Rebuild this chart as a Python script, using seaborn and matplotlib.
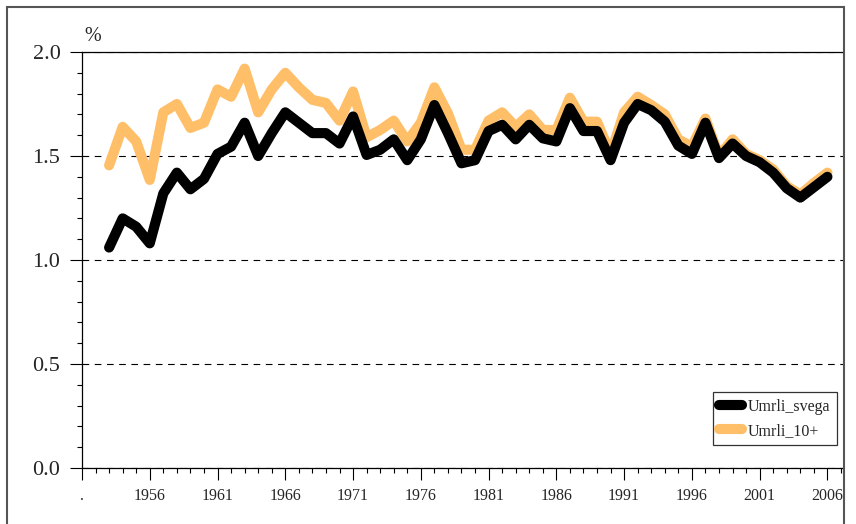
import pandas as pd
import matplotlib.pyplot as plt
import seaborn as sns
from matplotlib.ticker import MultipleLocator
from matplotlib.patches import Rectangle

# 数据：年份与两条序列（%）
years = list(range(1953, 2007))
umrli_svega = [1.06, 1.20, 1.16, 1.08, 1.32, 1.42, 1.34, 1.39, 1.51, 1.545,
               1.66, 1.50, 1.61, 1.71, 1.66, 1.61, 1.61, 1.56, 1.69, 1.505,
               1.53, 1.58, 1.48, 1.58, 1.745, 1.61, 1.465, 1.48, 1.62, 1.65,
               1.58, 1.65, 1.585, 1.57, 1.73, 1.62, 1.62, 1.48, 1.66, 1.75,
               1.72, 1.665, 1.55, 1.51, 1.66, 1.49, 1.56, 1.50, 1.47, 1.42,
               1.345, 1.30, 1.35, 1.40]
umrli_10 = [1.455, 1.64, 1.57, 1.385, 1.71, 1.75, 1.635, 1.66, 1.82, 1.785,
            1.92, 1.71, 1.82, 1.90, 1.83, 1.77, 1.755, 1.67, 1.81, 1.59,
            1.625, 1.67, 1.57, 1.66, 1.83, 1.705, 1.53, 1.53, 1.67, 1.71,
            1.64, 1.70, 1.625, 1.625, 1.78, 1.665, 1.665, 1.51, 1.71, 1.785,
            1.745, 1.70, 1.58, 1.545, 1.68, 1.50, 1.58, 1.51, 1.48, 1.435,
            1.355, 1.315, 1.37, 1.42]
major_years = list(range(1951, 2007, 5))
x_labels = ['.'] + [str(y) for y in major_years[1:]]
y_ticks = [0.0, 0.5, 1.0, 1.5, 2.0]

sns.set_theme(style="white")
plt.rcParams['font.family'] = ['Liberation Serif', 'DejaVu Serif']

df = pd.DataFrame({'year': years, 'Umrli_svega': umrli_svega, 'Umrli_10+': umrli_10})

fig = plt.figure(figsize=(8.56, 5.24), dpi=100)
ax = fig.add_axes([82 / 856, 1 - 468 / 524, (843 - 82) / 856, (468 - 52) / 524])

line_kw = dict(linewidth=7.3, solid_capstyle='round', solid_joinstyle='round')
sns.lineplot(data=df, x='year', y='Umrli_10+', color='#FFBF69', ax=ax, label='Umrli_10+', **line_kw)
sns.lineplot(data=df, x='year', y='Umrli_svega', color='black', ax=ax, label='Umrli_svega', **line_kw)

# 坐标轴
ax.set_xlim(1951, 2007.15)
ax.set_ylim(0, 2.0)
ax.set_xticks(major_years)
ax.set_xticklabels(x_labels, fontsize=11.5)
ax.xaxis.set_minor_locator(MultipleLocator(1))
ax.set_yticks(y_ticks)
ax.set_yticklabels([f'{v:.1f}' for v in y_ticks], fontsize=16)
ax.yaxis.set_minor_locator(MultipleLocator(0.1))
ax.tick_params(axis='both', which='major', direction='out', length=8.5, width=0.8, color='black')
ax.tick_params(axis='both', which='minor', direction='out', length=3.8, width=0.8, color='black')
ax.tick_params(axis='x', which='both', bottom=True, pad=6)
ax.tick_params(axis='y', which='both', left=True, pad=7)
ax.set_xlabel('')
ax.set_ylabel('')

for side in ['left', 'top', 'bottom']:
    ax.spines[side].set_color('black')
    ax.spines[side].set_linewidth(0.9)
ax.spines['right'].set_visible(False)

ax.yaxis.grid(True, which='major', color='black', linestyle=(0, (6, 5)), linewidth=0.8)
ax.xaxis.grid(False)

# 图例（黑线在前）
handles, labels = ax.get_legend_handles_labels()
leg = ax.legend(handles[::-1], labels[::-1], loc='lower right', bbox_to_anchor=(0.992, 0.055),
                borderaxespad=0, fontsize=11.5, frameon=True, fancybox=False, edgecolor='black',
                handlelength=1.4, handletextpad=0.4, labelspacing=0.5, borderpad=0.4)
leg.get_frame().set_linewidth(0.9)
leg.get_frame().set_boxstyle('square', pad=0)

fig.text(84 / 856, 1 - 41 / 524, '%', fontsize=14.5, ha='left', va='baseline')

# 外框
fig.patches.append(Rectangle((7 / 856, -0.05), (844 - 7) / 856, 1.05 - 7 / 524,
                             transform=fig.transFigure, fill=False, edgecolor='#555555',
                             linewidth=1.5, zorder=10))

fig.savefig('out.png', dpi=100)
